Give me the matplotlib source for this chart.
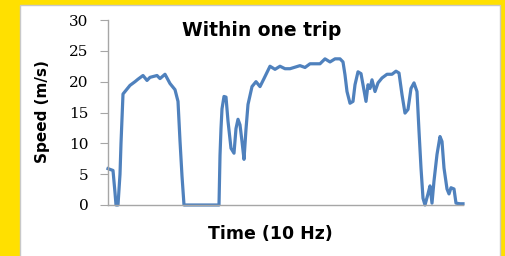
#!/usr/bin/env python3
'''
Speed trace within one trip (10 Hz samples)
'''

import matplotlib.pyplot as plt
from matplotlib.patches import Rectangle

# time index (samples) and speed (m/s)
time = [0, 50, 70, 80, 100, 120, 130, 150, 170, 220, 270, 300, 350, 390,
        420, 490, 520, 570, 620, 670, 700, 720, 740, 760,
        1110, 1120, 1130, 1140, 1160, 1180, 1200, 1230, 1260, 1280, 1300,
        1320, 1340, 1360, 1380, 1400, 1440, 1480, 1520, 1560, 1620, 1670,
        1720, 1770, 1820, 1920, 1970, 2020, 2120, 2170, 2220, 2270, 2320,
        2350, 2370, 2390, 2420, 2450, 2470, 2500, 2530, 2550, 2580, 2600,
        2620, 2640, 2670, 2700, 2740, 2790, 2840, 2880, 2910, 2940, 2970,
        3000, 3030, 3060, 3090, 3110, 3130, 3150, 3170, 3200, 3220, 3240,
        3260, 3290, 3320, 3340, 3360, 3390, 3410, 3430, 3460, 3480, 3520,
        3550]
speed = [5.9, 5.6, 2.0, 0, 0, 5, 10, 18, 18.4, 19.4, 20, 20.4, 21, 20.2,
         20.7, 21, 20.5, 21.2, 19.7, 18.7, 16.8, 10.4, 4.7, 0,
         0, 8, 12.4, 15.6, 17.6, 17.5, 13.6, 9.2, 8.4, 12.4, 13.9,
         13, 10.3, 7.4, 12.3, 16.3, 19.2, 20, 19.2, 20.5, 22.5, 22,
         22.5, 22.1, 22.1, 22.6, 22.3, 22.9, 22.9, 23.7, 23.2, 23.7, 23.7,
         23.2, 21.1, 18.4, 16.5, 16.8, 19.5, 21.6, 21.3, 19.5, 16.8, 19.5,
         18.9, 20.3, 18.4, 19.8, 20.6, 21.2, 21.2, 21.7, 21.4, 17.9, 14.9,
         15.5, 18.9, 19.8, 18.4, 12, 6, 1.1, 0, 1.8, 3.1, 0.3,
         3.9, 8.2, 11.1, 10.3, 6, 2.6, 1.8, 2.8, 2.6, 0.3, 0.2,
         0.2]
yticks = [0, 5, 10, 15, 20, 25, 30]

W, H = 506, 256
fig = plt.figure(figsize=(W / 100, H / 100), dpi=100)
fig.patch.set_facecolor('#FFE000')

# white chart area with thin grey frame, behind the axes
panel = Rectangle((20 / W, -0.05), 480 / W, 1.05 - 5 / H,
                  transform=fig.transFigure, facecolor='white',
                  edgecolor='#C8C8C8', linewidth=1.0, zorder=-10)
fig.patches.append(panel)

ax = fig.add_axes([108 / W, 1 - 205 / H, 355 / W, 185 / H])
ax.set_facecolor('none')
ax.set_zorder(5)
ax.plot(time, speed, color='#4F81BD', linewidth=2.3, solid_joinstyle='round',
        clip_on=False)

ax.set_xlim(time[0], time[-1])
ax.set_ylim(0, 30)
ax.set_yticks(yticks)
ax.set_xticks([])
for s in ['top', 'right']:
    ax.spines[s].set_visible(False)
for s in ['left', 'bottom']:
    ax.spines[s].set_color('#A6A6A6')
    ax.spines[s].set_linewidth(1.0)
ax.tick_params(axis='y', length=6, color='#A6A6A6', direction='out',
               labelsize=11, pad=8)
for lbl in ax.get_yticklabels():
    lbl.set_fontfamily('DejaVu Serif')

fig.text(262 / W, 1 - 30 / H, 'Within one trip', ha='center', va='center',
         fontsize=13.5, fontweight='bold', family='DejaVu Sans')
fig.text(270 / W, 1 - 234 / H, 'Time (10 Hz)', ha='center', va='center',
         fontsize=12.5, fontweight='bold', family='DejaVu Sans')
fig.text(42 / W, 1 - 112 / H, 'Speed (m/s)', ha='center', va='center',
         rotation=90, fontsize=11, fontweight='bold', family='DejaVu Sans')

fig.savefig('out.png', dpi=100, facecolor=fig.get_facecolor())
